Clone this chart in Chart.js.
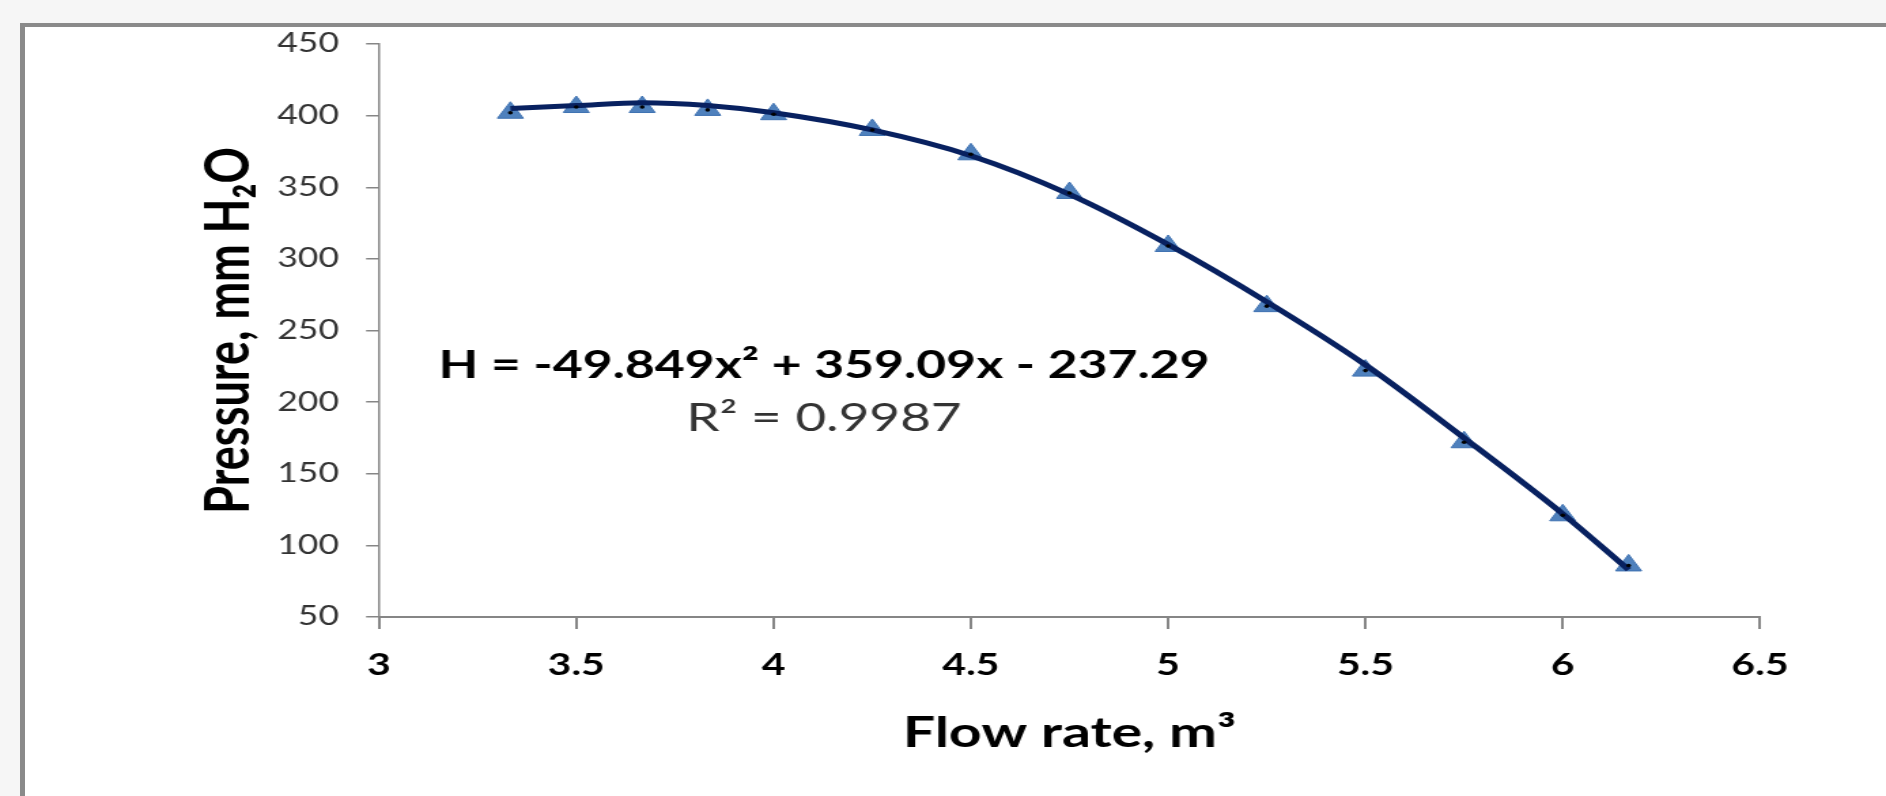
<!DOCTYPE html>
<html>
<head>
<meta charset="utf-8">
<title>Pressure vs flow rate</title>
<script src="https://cdn.jsdelivr.net/npm/chart.js@4.4.1/dist/chart.umd.min.js"></script>
<style>
  html, body { margin: 0; padding: 0; background: #f6f6f6; overflow: hidden; }
  #frame {
    position: absolute; left: 20px; top: 23px; width: 1900px; height: 800px;
    background: #fff; border-top: 4px solid #8a8a8a; border-left: 5px solid #8a8a8a;
  }
  #fanChart { position: absolute; left: 0; top: 0; }
</style>
</head>
<body>
<div id="frame"></div>
<canvas id="fanChart" width="1387" height="796" style="width: 1886px; height: 796px;"></canvas>
<script>
// measured points (flow rate, pressure)
const flowRate = [3.333, 3.5, 3.667, 3.833, 4.0, 4.25, 4.5, 4.75, 5.0, 5.25, 5.5, 5.75, 6.0, 6.167];
const pressure = [402, 406, 406, 404, 401, 390, 373, 346, 309, 267, 222, 172, 121, 86];
// trend line at the same flow rates
const trendPressure = [405, 407, 409, 407, 402, 390, 372, 345, 310, 270, 226, 175, 122, 83];

const xTickValues = [3, 3.5, 4, 4.5, 5, 5.5, 6, 6.5];
const xTickLabels = ['3', '3.5', '4', '4.5', '5', '5.5', '6', '6.5'];
const yTickValues = [50, 100, 150, 200, 250, 300, 350, 400, 450];
const yTickLabels = ['50', '100', '150', '200', '250', '300', '350', '400', '450'];

const equationText = 'H = -49.849x² + 359.09x - 237.29';
const r2Text = 'R² = 0.9987';

// the original picture is stretched sideways, so the canvas is drawn narrow and widened by css
const STRETCH = 1886 / 1387;
const EQ_X = 4.128;
const EQ_Y = 225.6;
const R2_Y = 188.9;

const axisGray = '#868686';

const points = flowRate.map((x, i) => ({ x, y: pressure[i] }));
const trend = flowRate.map((x, i) => ({ x, y: trendPressure[i] }));

const equationLabel = {
  id: 'equationLabel',
  afterDraw(chart) {
    const { ctx, scales } = chart;
    const x = scales.x.getPixelForValue(EQ_X);
    ctx.save();
    ctx.textAlign = 'center';
    ctx.textBaseline = 'middle';
    ctx.fillStyle = '#000';
    ctx.font = 'bold 38px Lato';
    ctx.fillText(equationText, x, scales.y.getPixelForValue(EQ_Y));
    ctx.fillStyle = '#333';
    ctx.font = '39px Lato';
    ctx.fillText(r2Text, x, scales.y.getPixelForValue(R2_Y));
    ctx.restore();
  }
};

const ctx = document.getElementById('fanChart').getContext('2d');

new Chart(ctx, {
  type: 'scatter',
  data: {
    datasets: [
      {
        label: 'measured',
        data: points,
        pointStyle: 'triangle',
        pointRadius: 11,
        backgroundColor: '#4f81bd',
        borderColor: '#3f72b2',
        borderWidth: 1,
        showLine: false,
        order: 3
      },
      {
        label: 'trend',
        data: trend,
        showLine: true,
        pointRadius: 0,
        borderColor: '#082160',
        borderWidth: 5,
        cubicInterpolationMode: 'monotone',
        fill: false,
        order: 2
      },
      {
        label: 'centres',
        data: points,
        pointStyle: 'circle',
        pointRadius: 1.8,
        backgroundColor: '#000',
        borderWidth: 0,
        showLine: false,
        order: 1
      }
    ]
  },
  options: {
    responsive: false,
    devicePixelRatio: 1,
    animation: false,
    layout: { padding: { left: 0, top: 44, right: 1387 - 1760 / STRETCH, bottom: 0 } },
    plugins: {
      legend: { display: false },
      tooltip: { enabled: false }
    },
    scales: {
      x: {
        type: 'linear',
        min: 3,
        max: 6.5,
        afterBuildTicks: scale => { scale.ticks = xTickValues.map(v => ({ value: v })); },
        afterFit: scale => { scale.height = 179; },
        ticks: {
          color: '#000',
          font: { family: 'Lato', size: 30, weight: 'bold' },
          padding: 18,
          callback: v => xTickLabels[xTickValues.indexOf(v)]
        },
        grid: { drawOnChartArea: false, drawTicks: true, tickLength: 12, color: axisGray, lineWidth: 2 },
        border: { color: axisGray, width: 2 },
        title: {
          display: true,
          text: 'Flow rate, m³',
          color: '#000',
          font: { family: 'Lato', size: 42, weight: 'bold' },
          padding: { top: 0, bottom: 37 }
        }
      },
      y: {
        min: 50,
        max: 450,
        afterBuildTicks: scale => { scale.ticks = yTickValues.map(v => ({ value: v })); },
        afterFit: scale => { scale.width = 379 / STRETCH; },
        ticks: {
          color: '#333',
          font: { family: 'Lato', size: 26 },
          padding: 20,
          callback: v => yTickLabels[yTickValues.indexOf(v)]
        },
        grid: { drawOnChartArea: false, drawTicks: true, tickLength: 9.5, color: axisGray, lineWidth: 1.5 },
        border: { color: axisGray, width: 1.5 },
        title: {
          display: true,
          text: 'Pressure, mm H₂O',
          color: '#000',
          font: { family: 'Lato', size: 45, weight: 'bold' },
          padding: { top: 141, bottom: 0 }
        }
      }
    }
  },
  plugins: [equationLabel]
});
</script>
</body>
</html>
